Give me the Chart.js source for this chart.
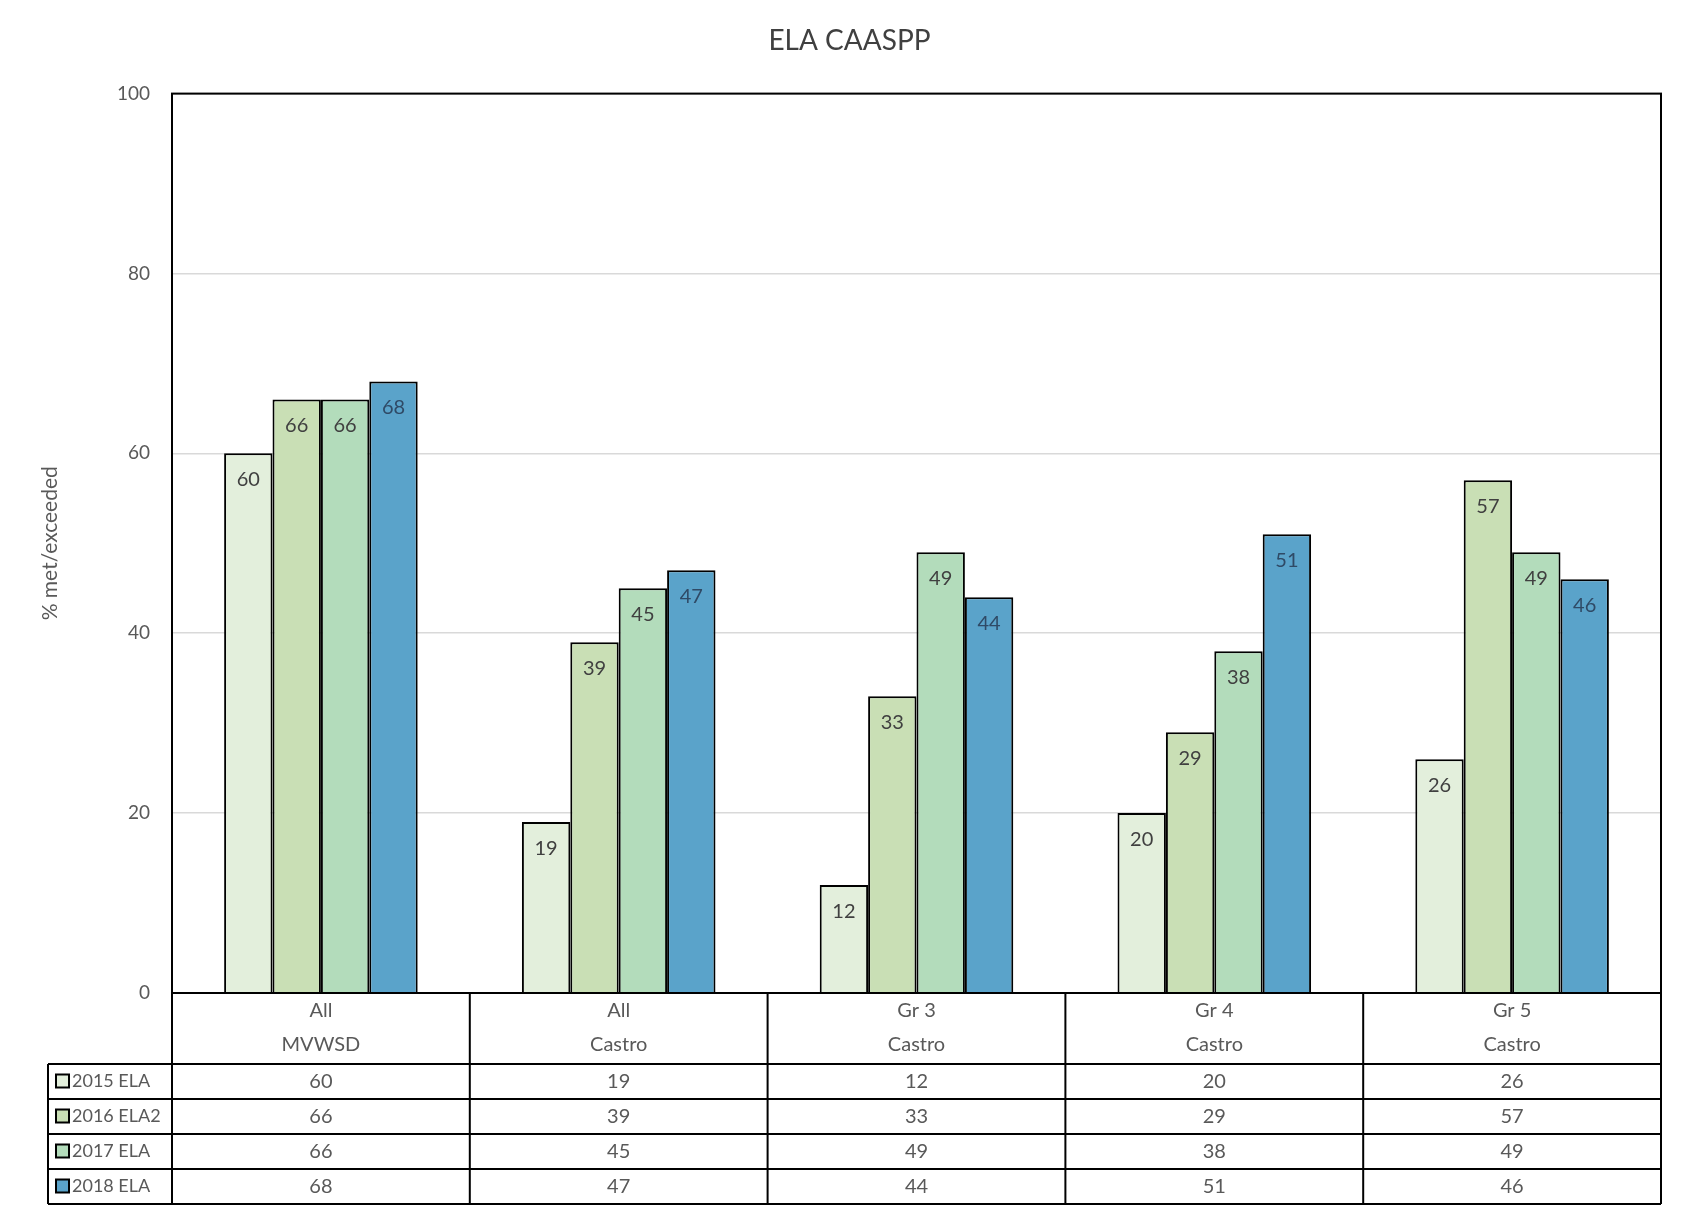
<!DOCTYPE html>
<html>
<head>
<meta charset="utf-8">
<script src="https://cdn.jsdelivr.net/npm/chart.js@4/dist/chart.umd.min.js"></script>
<style>
  html, body { margin: 0; padding: 0; background: #fff; }
  #wrap { width: 1689px; height: 1214px; position: relative; }
</style>
</head>
<body>
<div id="wrap"><canvas id="myChart"></canvas></div>
<script>
// categories (two line labels, shown in the table under the plot)
const categories = [["All", "MVWSD"], ["All", "Castro"], ["Gr 3", "Castro"], ["Gr 4", "Castro"], ["Gr 5", "Castro"]];

const ela2015 = [60, 19, 12, 20, 26];
const ela2016 = [66, 39, 33, 29, 57];
const ela2017 = [66, 45, 49, 38, 49];
const ela2018 = [68, 47, 44, 51, 46];

const seriesNames = ["2015 ELA", "2016 ELA2", "2017 ELA", "2018 ELA"];
const seriesColors = ["#e3efdc", "#c9dfb5", "#b3dcbb", "#5aa3ca"];

const yTicks = [0, 20, 40, 60, 80, 100];

const FONT = "Lato, 'Open Sans', sans-serif";

// value labels near the top of each bar
const barLabels = {
  id: "barLabels",
  afterDatasetsDraw(chart) {
    const ctx = chart.ctx;
    ctx.save();
    ctx.font = "20px " + FONT;
    ctx.textAlign = "center";
    ctx.textBaseline = "middle";
    chart.data.datasets.forEach((ds, di) => {
      const meta = chart.getDatasetMeta(di);
      meta.data.forEach((bar, i) => {
        ctx.fillStyle = di === 3 ? "#2f4a66" : "#404040";
        ctx.fillText(String(ds.data[i]), bar.x, bar.y + 26);
      });
    });
    ctx.restore();
  },
};

// plot frame + data table below the plot
const dataTable = {
  id: "dataTable",
  afterDraw(chart) {
    const ctx = chart.ctx;
    const area = chart.chartArea;
    const xs = chart.scales.x;
    const n = categories.length;
    const colW = (area.right - area.left) / n;
    const headBottom = area.bottom + 71;
    const rowH = 35;
    const tableLeft = 48;
    const tableBottom = headBottom + rowH * seriesNames.length;

    ctx.save();
    ctx.strokeStyle = "#000";
    ctx.lineWidth = 2;
    ctx.strokeRect(area.left, area.top, area.right - area.left, area.bottom - area.top);

    // column lines
    ctx.beginPath();
    for (let i = 0; i <= n; i++) {
      const x = area.left + colW * i;
      ctx.moveTo(x, area.bottom);
      ctx.lineTo(x, tableBottom);
    }
    ctx.moveTo(tableLeft, headBottom);
    ctx.lineTo(tableLeft, tableBottom);
    for (let r = 0; r <= seriesNames.length; r++) {
      const y = headBottom + rowH * r;
      ctx.moveTo(tableLeft, y);
      ctx.lineTo(area.right, y);
    }
    ctx.stroke();

    ctx.fillStyle = "#595959";
    ctx.textAlign = "center";
    ctx.textBaseline = "middle";
    ctx.font = "20px " + FONT;
    categories.forEach((lab, i) => {
      const cx = xs.getPixelForValue(i);
      ctx.fillText(lab[0], cx, area.bottom + 18);
      ctx.fillText(lab[1], cx, area.bottom + 52);
    });

    chart.data.datasets.forEach((ds, di) => {
      const cy = headBottom + rowH * di + rowH / 2;
      ctx.font = "20px " + FONT;
      ds.data.forEach((v, i) => {
        ctx.fillStyle = "#595959";
        ctx.textAlign = "center";
        ctx.fillText(String(v), xs.getPixelForValue(i), cy);
      });
      // legend key
      ctx.fillStyle = seriesColors[di];
      ctx.fillRect(tableLeft + 8, cy - 7, 13, 13);
      ctx.lineWidth = 2;
      ctx.strokeRect(tableLeft + 8, cy - 7, 13, 13);
      ctx.fillStyle = "#595959";
      ctx.textAlign = "left";
      ctx.font = "18px " + FONT;
      ctx.fillText(seriesNames[di], tableLeft + 24, cy);
    });
    ctx.restore();
  },
};

const canvasCtx = document.getElementById("myChart").getContext("2d");

const datasets = [ela2015, ela2016, ela2017, ela2018].map((d, i) => ({
  label: seriesNames[i],
  data: d,
  backgroundColor: seriesColors[i],
  borderColor: "#000",
  borderWidth: 2,
  categoryPercentage: 0.65,
  barPercentage: 1.0,
}));

const config = {
  type: "bar",
  data: { labels: categories.map((c) => c.join(" ")), datasets },
  options: {
    responsive: true,
    maintainAspectRatio: false,
    animation: false,
    layout: { padding: { left: 38, right: 28, top: 0, bottom: 213 } },
    plugins: {
      legend: { display: false },
      tooltip: { enabled: false },
      title: {
        display: true,
        text: "ELA CAASPP",
        color: "#404040",
        font: { family: FONT, size: 28, weight: "normal" },
        padding: { top: 24, bottom: 36 },
      },
    },
    scales: {
      x: {
        ticks: { display: false },
        grid: { display: false },
        border: { display: false },
      },
      y: {
        min: 0,
        max: 100,
        afterBuildTicks: (s) => { s.ticks = yTicks.map((v) => ({ value: v })); },
        afterFit: (s) => { s.width = 134; },
        ticks: {
          color: "#595959",
          font: { family: FONT, size: 19 },
          padding: 22,
        },
        grid: { color: "#d9d9d9", lineWidth: 1.5, drawTicks: false },
        border: { display: false },
        title: {
          display: true,
          text: "% met/exceeded",
          color: "#595959",
          font: { family: FONT, size: 21 },
          padding: { top: 0, bottom: 0 },
        },
      },
    },
  },
  plugins: [barLabels, dataTable],
};

let myChart = new Chart(canvasCtx, config);
</script>
</body>
</html>
